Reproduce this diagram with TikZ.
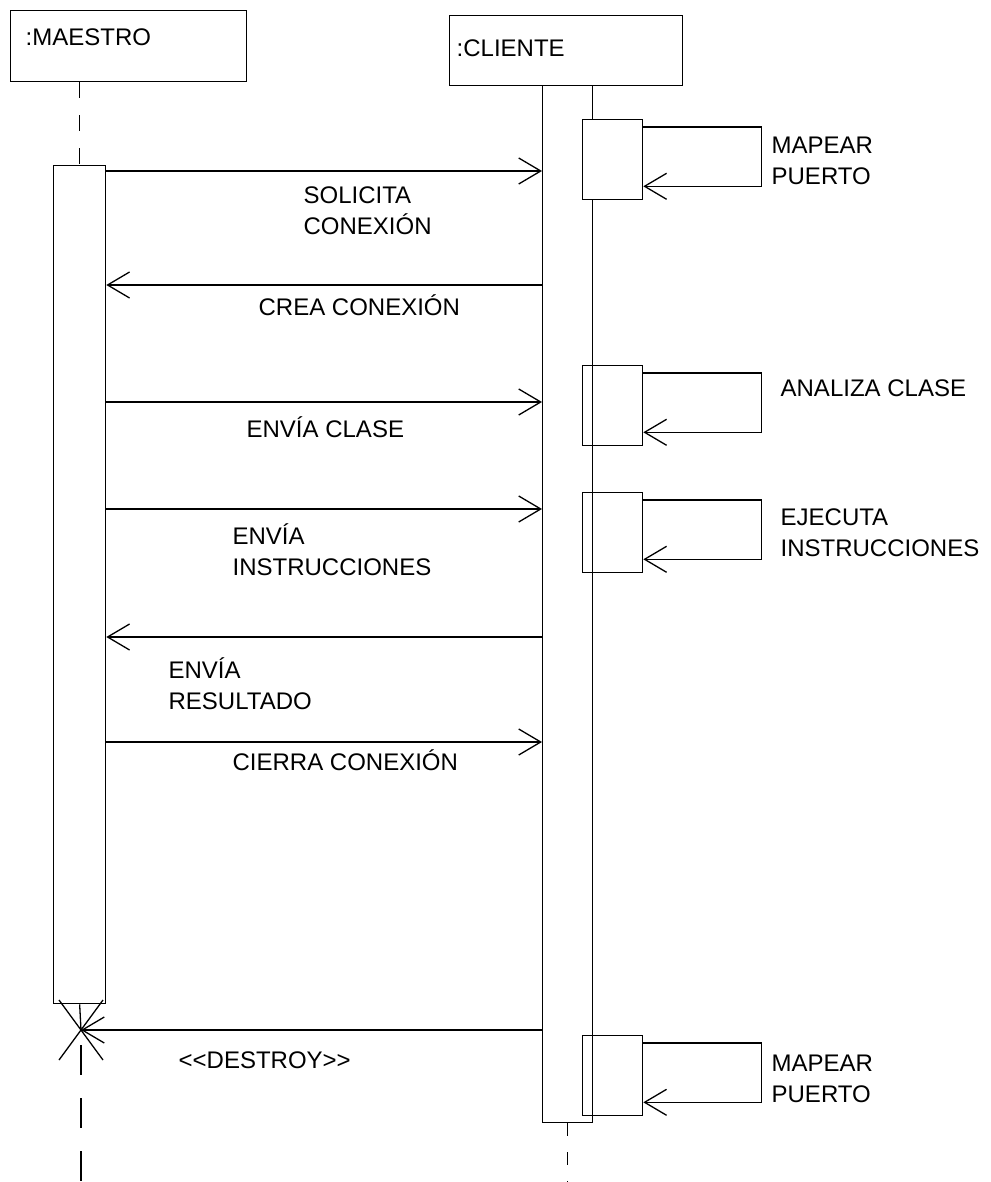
\documentclass[tikz,border=0pt]{standalone}
\usepackage{fontspec}
\setmainfont{Liberation Sans}
\usetikzlibrary{arrows.meta}

\tikzset{
  objbox/.style={draw,anchor=north west,align=left,inner ysep=0pt,text height=16pt},
  actbox/.style={draw,anchor=north west,inner sep=0pt},
  selfbox/.style={draw,anchor=north west,inner sep=0pt,minimum width=60pt,minimum height=80pt},
  msg/.style={-{Straight Barb[length=22pt,width=26pt]}},
  msgtext/.style={anchor=base west,align=left,inner sep=0pt}
}

\begin{document}
\begin{tikzpicture}[x=1pt,y=-1pt,line width=1.3pt,font=\fontsize{24}{31}\selectfont]
\useasboundingbox (0,0) rectangle (990,1182);
% objetos
\node[objbox,minimum width=236pt,minimum height=71pt,inner xsep=15pt,text width=206pt,text depth=17pt] (maestro) at (10,10) {:MAESTRO};
\node[objbox,minimum width=233pt,minimum height=70pt,inner xsep=7pt,text width=219pt,text depth=4pt] (cliente) at (449,15) {:CLIENTE};
% activaciones
\node[actbox,minimum width=52pt,minimum height=838pt] (actM) at (53,165) {};
\node[actbox,minimum width=50pt,minimum height=1037pt] (actC) at (542,85) {};
\coordinate (xd) at (81,1030);
% lineas de vida
\draw[dash pattern=on 16pt off 17pt] (actM.north |- maestro.south) -- (actM.north);
\draw (actM.south) -- (xd);
\draw[dash pattern=on 30pt off 23pt] ([yshift=-15pt]xd) -- ++(0,140);
\draw[dash pattern=on 13pt off 16pt] (actC.south) -- ++(0,62);
\draw (xd) ++(-22,-30) -- ++(44,60) (xd) ++(-22,30) -- ++(44,-60);
% autollamadas
\node[selfbox,fill=white] (s1) at (582,119) {};
\node[selfbox] (s2) at (582,365) {};
\node[selfbox] (s3) at (582,492) {};
\node[selfbox] (s4) at (582,1035) {};
\foreach \s in {s1,s2,s3,s4}
  \draw[msg] ([yshift=-8pt]\s.north east) -- ++(118,0) |- ([yshift=14pt]\s.south east);
% mensajes
\draw[msg] (actM.east |- 0,171) -- (actC.west |- 0,171);
\draw[msg] (actC.west |- 0,285) -- (actM.east |- 0,285);
\draw[msg] (actM.east |- 0,402) -- (actC.west |- 0,402);
\draw[msg] (actM.east |- 0,509) -- (actC.west |- 0,509);
\draw[msg] (actC.west |- 0,637) -- (actM.east |- 0,637);
\draw[msg] (actM.east |- 0,742) -- (actC.west |- 0,742);
\draw[msg] (actC.west |- xd) -- (xd);
% textos (base = ultima linea)
\node[msgtext] (tsol) at (303,235) {SOLICITA\\CONEXIÓN};
\node[msgtext] (tcrea) at (258,315) {CREA CONEXIÓN};
\node[msgtext] (tclase) at (246,437) {ENVÍA CLASE};
\node[msgtext] (tinst) at (232,575) {ENVÍA\\INSTRUCCIONES};
\node[msgtext] (tres) at (168,709) {ENVÍA\\RESULTADO};
\node[msgtext] (tcierra) at (232,770) {CIERRA CONEXIÓN};
\node[msgtext] (tdest) at (178,1068) {<\kern0pt<DESTROY>\kern0pt>};
\node[msgtext] (tmap) at (771,185) {MAPEAR\\PUERTO};
\node[msgtext] (tanal) at (780,396) {ANALIZA CLASE};
\node[msgtext] (tejec) at (780,556) {EJECUTA\\INSTRUCCIONES};
\node[msgtext] (tmap2) at (771,1102) {MAPEAR\\PUERTO};
\end{tikzpicture}
\end{document}
